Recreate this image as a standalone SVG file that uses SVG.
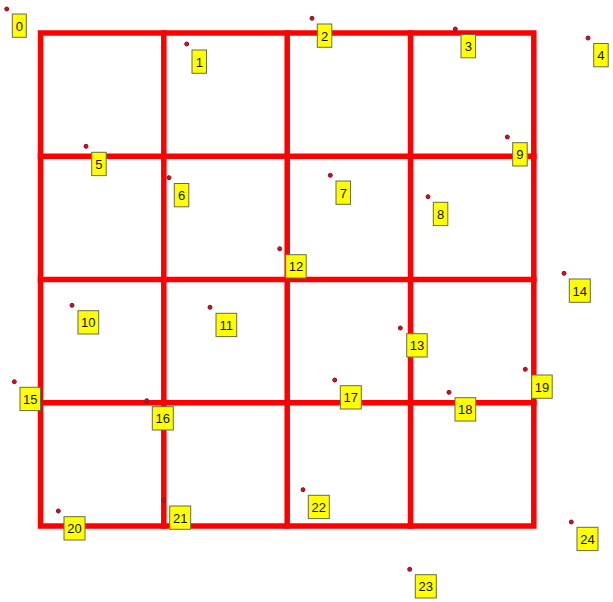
<svg xmlns="http://www.w3.org/2000/svg" width="613" height="602" viewBox="0 0 613 602">
<style>
.grid{fill:none;stroke:#ff0000;stroke-width:5.5;stroke-linecap:square}
.dot{fill:#d01020;stroke:#8b1020;stroke-width:1}
.lbl{fill:#ffff00;stroke:#6b6b45;stroke-width:1}
.t{font-family:"Liberation Sans",Arial,sans-serif;font-size:13px;fill:#111;text-anchor:middle}
</style>
<rect width="613" height="602" fill="#ffffff"/>
<g id="connectors">
<rect class="grid" x="40.5" y="33" width="493.3" height="493"/>
<path class="grid" d="M163.8 33V526M287.2 33V526M410.5 33V526M40.5 156.3H533.8M40.5 279.5H533.8M40.5 402.8H533.8"/>
</g>
<g id="n0"><circle class="dot" cx="6.7" cy="9" r="2"/><rect class="lbl" x="12.3" y="14" width="14" height="23.3"/><text class="t" x="19.3" y="30.5">0</text></g>
<g id="n1"><circle class="dot" cx="186.7" cy="44" r="2"/><rect class="lbl" x="192" y="50" width="14.5" height="23.3"/><text class="t" x="199.25" y="66.5">1</text></g>
<g id="n2"><circle class="dot" cx="312" cy="18.3" r="2"/><rect class="lbl" x="317.3" y="24" width="14.5" height="23.3"/><text class="t" x="324.55" y="40.5">2</text></g>
<g id="n3"><circle class="dot" cx="455.3" cy="29" r="2"/><rect class="lbl" x="461" y="34.5" width="14.5" height="23.3"/><text class="t" x="468.25" y="51">3</text></g>
<g id="n4"><circle class="dot" cx="588" cy="38" r="2"/><rect class="lbl" x="593.7" y="43.5" width="14.5" height="23.3"/><text class="t" x="600.95" y="60">4</text></g>
<g id="n5"><circle class="dot" cx="86" cy="146.3" r="2"/><rect class="lbl" x="91.7" y="152.3" width="14.5" height="23.3"/><text class="t" x="98.95" y="168.8">5</text></g>
<g id="n6"><circle class="dot" cx="169" cy="177.7" r="2"/><rect class="lbl" x="174.3" y="183.5" width="14.5" height="23.3"/><text class="t" x="181.55" y="200">6</text></g>
<g id="n7"><circle class="dot" cx="330.3" cy="175.3" r="2"/><rect class="lbl" x="336" y="181" width="14.5" height="23.3"/><text class="t" x="343.25" y="197.5">7</text></g>
<g id="n8"><circle class="dot" cx="428" cy="196.7" r="2"/><rect class="lbl" x="433.3" y="202.3" width="14.5" height="23.3"/><text class="t" x="440.55" y="218.8">8</text></g>
<g id="n9"><circle class="dot" cx="507.3" cy="137" r="2"/><rect class="lbl" x="512.7" y="142.7" width="14.5" height="23.3"/><text class="t" x="519.95" y="159.2">9</text></g>
<g id="n10"><circle class="dot" cx="72" cy="305.3" r="2"/><rect class="lbl" x="78" y="310.7" width="20.7" height="23.3"/><text class="t" x="88.35" y="327.2">10</text></g>
<g id="n11"><circle class="dot" cx="210" cy="307.3" r="2"/><rect class="lbl" x="216" y="313.3" width="20.7" height="23.3"/><text class="t" x="226.35" y="329.8">11</text></g>
<g id="n12"><circle class="dot" cx="279.7" cy="248.7" r="2"/><rect class="lbl" x="285.7" y="254.7" width="20.5" height="23.3"/><text class="t" x="295.95" y="271.2">12</text></g>
<g id="n13"><circle class="dot" cx="400.3" cy="328" r="2"/><rect class="lbl" x="406.7" y="333.7" width="20.5" height="23.3"/><text class="t" x="416.95" y="350.2">13</text></g>
<g id="n14"><circle class="dot" cx="564" cy="273.3" r="2"/><rect class="lbl" x="569.3" y="279" width="21" height="23.3"/><text class="t" x="579.8" y="295.5">14</text></g>
<g id="n15"><circle class="dot" cx="14.3" cy="381.7" r="2"/><rect class="lbl" x="20" y="387.3" width="20.5" height="23.3"/><text class="t" x="30.25" y="403.8">15</text></g>
<g id="n16"><circle class="dot" cx="146.7" cy="400.7" r="2"/><rect class="lbl" x="152.3" y="406.7" width="21" height="23.3"/><text class="t" x="162.8" y="423.2">16</text></g>
<g id="n17"><circle class="dot" cx="334.7" cy="380" r="2"/><rect class="lbl" x="340.3" y="385.7" width="21" height="23.3"/><text class="t" x="350.8" y="402.2">17</text></g>
<g id="n18"><circle class="dot" cx="449" cy="392.3" r="2"/><rect class="lbl" x="455" y="397.7" width="20.7" height="23.3"/><text class="t" x="465.35" y="414.2">18</text></g>
<g id="n19"><circle class="dot" cx="525.3" cy="369.3" r="2"/><rect class="lbl" x="531.7" y="375" width="20.5" height="23.3"/><text class="t" x="541.95" y="391.5">19</text></g>
<g id="n20"><circle class="dot" cx="58.3" cy="511" r="2"/><rect class="lbl" x="64" y="516.7" width="21" height="23.3"/><text class="t" x="74.5" y="533.2">20</text></g>
<g id="n21"><circle class="dot" cx="163.7" cy="500.3" r="2"/><rect class="lbl" x="169.7" y="506" width="21" height="23.3"/><text class="t" x="180.2" y="522.5">21</text></g>
<g id="n22"><circle class="dot" cx="303" cy="489.7" r="2"/><rect class="lbl" x="308.3" y="495.3" width="21" height="23.3"/><text class="t" x="318.8" y="511.8">22</text></g>
<g id="n23"><circle class="dot" cx="409.7" cy="569.3" r="2"/><rect class="lbl" x="415.3" y="574.7" width="21" height="23.3"/><text class="t" x="425.8" y="591.2">23</text></g>
<g id="n24"><circle class="dot" cx="571.3" cy="522" r="2"/><rect class="lbl" x="577" y="527.3" width="21" height="23.3"/><text class="t" x="587.5" y="543.8">24</text></g>
</svg>
